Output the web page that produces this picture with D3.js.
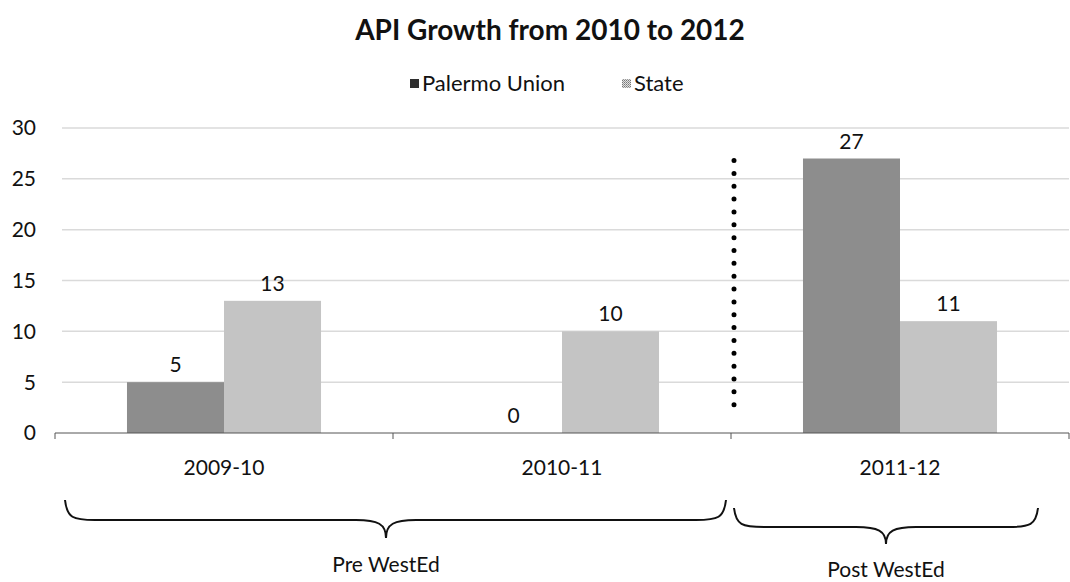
<!DOCTYPE html>
<html>
<head>
<meta charset="utf-8">
<script src="https://cdn.jsdelivr.net/npm/d3@7/dist/d3.min.js"></script>
<style>
  html, body { margin: 0; padding: 0; background: #fff; }
  svg { display: block; font-family: Lato, "Open Sans", sans-serif; }
</style>
</head>
<body>
<svg id="chart" width="1070" height="582"></svg>
<script>
// Chart data
const categories = ["2009-10", "2010-11", "2011-12"];
const seriesNames = ["Palermo Union", "State"];
const palermoValues = [5, 0, 27];
const stateValues = [13, 10, 11];
const yTicks = [0, 5, 10, 15, 20, 25, 30];
const periods = [
  { label: "Pre WestEd", from: "2009-10", to: "2010-11" },
  { label: "Post WestEd", from: "2011-12", to: "2011-12" }
];

const seriesValues = [palermoValues, stateValues];
const colors = ["#8d8d8d", "#c4c4c4"];

const svg = d3.select("#chart");

// Scales
const x0 = d3.scaleBand().domain(categories).range([55, 1069]).paddingInner(0).paddingOuter(0);
const x1 = d3.scaleBand().domain(seriesNames).range([0, x0.bandwidth()]).paddingInner(0).paddingOuter(0.742);
const y = d3.scaleLinear().domain([0, 30]).range([433, 128]);

const FS = 21;

// Title
svg.append("text")
  .attr("x", 550).attr("y", 40)
  .attr("text-anchor", "middle")
  .attr("font-size", 28).attr("font-weight", 700)
  .attr("fill", "#111")
  .text("API Growth from 2010 to 2012");

// Legend
const defs = svg.append("defs");
const pat = defs.append("pattern")
  .attr("id", "speckle").attr("width", 2).attr("height", 2)
  .attr("patternUnits", "userSpaceOnUse");
pat.append("rect").attr("width", 2).attr("height", 2).attr("fill", "#e0e0e0");
pat.append("rect").attr("width", 1).attr("height", 1).attr("fill", "#777");
pat.append("rect").attr("x", 1).attr("y", 1).attr("width", 1).attr("height", 1).attr("fill", "#999");

const legendItems = [
  { name: seriesNames[0], x: 410, fill: "#2e2e2e" },
  { name: seriesNames[1], x: 622, fill: "url(#speckle)" }
];
const legend = svg.append("g");
legendItems.forEach(d => {
  legend.append("rect")
    .attr("x", d.x).attr("y", 79).attr("width", 9).attr("height", 9)
    .attr("fill", d.fill);
  legend.append("text")
    .attr("x", d.x + 12).attr("y", 91)
    .attr("font-size", 22).attr("fill", "#111")
    .text(d.name);
});

// Gridlines
svg.append("g").selectAll("line")
  .data(yTicks.filter(t => t > 0))
  .join("line")
  .attr("x1", 62).attr("x2", 1069)
  .attr("y1", d => y(d)).attr("y2", d => y(d))
  .attr("stroke", "#dadada").attr("stroke-width", 1.5);

// Y tick labels
svg.append("g").selectAll("text")
  .data(yTicks)
  .join("text")
  .attr("x", 36).attr("y", d => y(d))
  .attr("dy", "0.35em")
  .attr("text-anchor", "end")
  .attr("font-size", FS).attr("fill", "#111")
  .text(d => d);

// Bars
const groups = svg.append("g").selectAll("g")
  .data(categories)
  .join("g")
  .attr("transform", d => `translate(${x0(d)},0)`);

groups.selectAll("rect")
  .data((c, i) => seriesNames.map((s, k) => ({ s, k, v: seriesValues[k][i] })))
  .join("rect")
  .attr("x", d => x1(d.s))
  .attr("width", x1.bandwidth())
  .attr("y", d => y(d.v))
  .attr("height", d => y(0) - y(d.v))
  .attr("fill", d => colors[d.k]);

// Value labels
groups.selectAll("text")
  .data((c, i) => seriesNames.map((s, k) => ({ s, k, v: seriesValues[k][i] })))
  .join("text")
  .attr("x", d => x1(d.s) + x1.bandwidth() / 2)
  .attr("y", d => y(d.v) - 10)
  .attr("text-anchor", "middle")
  .attr("font-size", FS).attr("fill", "#111")
  .text(d => d.v);

// Category axis
const axisY = y(0);
const axis = svg.append("g");
axis.append("line")
  .attr("x1", 55).attr("x2", 1069)
  .attr("y1", axisY).attr("y2", axisY)
  .attr("stroke", "#555").attr("stroke-width", 1);
axis.selectAll("line.tick")
  .data(categories.map(c => x0(c)).concat([x0.range()[1]]))
  .join("line")
  .attr("class", "tick")
  .attr("x1", d => d).attr("x2", d => d)
  .attr("y1", axisY).attr("y2", axisY + 6)
  .attr("stroke", "#555");
axis.selectAll("text")
  .data(categories)
  .join("text")
  .attr("x", d => x0(d) + x0.bandwidth() / 2)
  .attr("y", axisY + 42)
  .attr("text-anchor", "middle")
  .attr("font-size", FS).attr("fill", "#111")
  .text(d => d);

// Dotted divider between the pre and post periods
const divX = x0("2011-12") + 3;
svg.append("line")
  .attr("x1", divX).attr("x2", divX)
  .attr("y1", y(26.8)).attr("y2", y(2.75))
  .attr("stroke", "#000").attr("stroke-width", 5)
  .attr("stroke-linecap", "round")
  .attr("stroke-dasharray", "0 12.85");

// Curly braces grouping the periods
function bracePath(xa, xb, yEnd, yMid, yTip, tipX) {
  const r = 30;
  return `M${xa},${yEnd}` +
    `C${xa + 2},${yMid - 2} ${xa + 8},${yMid} ${xa + r},${yMid}` +
    `L${tipX - r},${yMid}` +
    `C${tipX - 8},${yMid} ${tipX},${yMid + 4} ${tipX},${yTip}` +
    `C${tipX},${yMid + 4} ${tipX + 8},${yMid} ${tipX + r},${yMid}` +
    `L${xb - r},${yMid}` +
    `C${xb - 8},${yMid} ${xb - 2},${yMid - 2} ${xb},${yEnd}`;
}

const braceSpecs = [
  { xa: 65, xb: 726, yEnd: 500, yMid: 520, yTip: 538, tipX: 386, labelY: 572 },
  { xa: 734, xb: 1038, yEnd: 508, yMid: 527, yTip: 544, tipX: 886, labelY: 577 }
];
periods.forEach((p, i) => {
  const b = braceSpecs[i];
  svg.append("path")
    .attr("d", bracePath(b.xa, b.xb, b.yEnd, b.yMid, b.yTip, b.tipX))
    .attr("fill", "none").attr("stroke", "#111").attr("stroke-width", 2);
  svg.append("text")
    .attr("x", b.tipX).attr("y", b.labelY)
    .attr("text-anchor", "middle")
    .attr("font-size", FS).attr("fill", "#111")
    .text(p.label);
});
</script>
</body>
</html>
